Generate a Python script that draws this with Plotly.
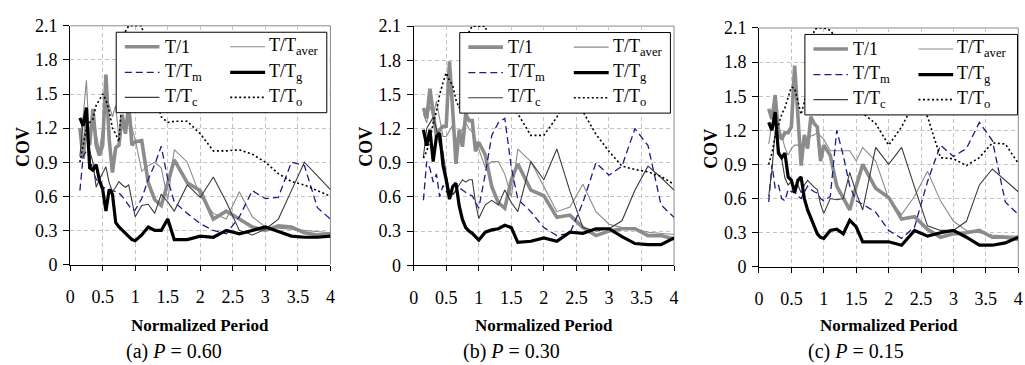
import plotly.graph_objects as go

# Normalized period grid shared by every curve
period = [0.15, 0.2, 0.25, 0.3, 0.35, 0.4, 0.45, 0.5, 0.55, 0.6, 0.65, 0.7, 0.75, 0.8,
          0.85, 0.9, 0.95, 1.0, 1.1, 1.2, 1.3, 1.4, 1.5, 1.6, 1.8, 2.0, 2.2, 2.4, 2.6,
          2.8, 3.0, 3.2, 3.4, 3.6, 3.8, 4.0]

# (a) P = 0.60
t1_a = [1.20, 0.93, 1.27, 1.05, 1.37, 1.05, 0.96, 1.05, 1.67, 1.10, 0.81, 1.03, 1.05, 1.32,
        1.15, 1.40, 1.05, 1.08, 1.09, 0.72, 0.57, 0.52, 0.72, 0.92, 0.72, 0.65, 0.40, 0.47,
        0.40, 0.33, 0.30, 0.34, 0.33, 0.28, 0.26, 0.27]
taver_a = [1.13, 1.30, 1.62, 1.05, 1.35, 1.15, 1.00, 1.20, 1.40, 1.40, 1.30, 1.40, 1.10, 1.20,
           1.20, 1.45, 1.20, 1.10, 0.82, 0.87, 0.90, 0.85, 0.57, 1.01, 0.90, 0.60, 0.45, 0.40,
           0.64, 0.42, 0.33, 0.32, 0.31, 0.30, 0.29, 0.28]
tm_a = [0.65, 0.95, 1.00, 0.95, 0.82, 0.75, 0.72, 0.68, 0.67, 0.66, 0.65, 0.64, 0.63, 0.60,
        0.56, 0.52, 0.48, 0.48, 0.58, 0.75, 0.88, 1.04, 0.75, 0.55, 0.45, 0.36, 0.30, 0.27,
        0.42, 0.65, 0.58, 0.59, 0.90, 0.87, 0.50, 0.40]
tc_a = [0.95, 1.25, 1.30, 1.00, 0.90, 0.68, 0.75, 0.80, 0.86, 0.72, 0.64, 0.68, 0.73, 0.70,
        0.68, 0.70, 0.55, 0.42, 0.52, 0.53, 0.45, 0.62, 0.55, 0.47, 0.70, 0.59, 0.77, 0.55,
        0.30, 0.26, 0.31, 0.40, 0.65, 0.90, 0.78, 0.66]
tg_a = [1.29, 1.22, 1.38, 0.85, 0.83, 0.88, 0.74, 0.66, 0.47, 0.66, 0.62, 0.37, 0.33, 0.30,
        0.28, 0.24, 0.22, 0.21, 0.26, 0.33, 0.30, 0.30, 0.40, 0.22, 0.22, 0.25, 0.24, 0.30,
        0.27, 0.30, 0.33, 0.29, 0.25, 0.24, 0.24, 0.25]
to_a = [0.90, 1.05, 1.20, 1.25, 1.28, 1.40, 1.45, 1.50, 1.45, 1.35, 1.20, 1.15, 1.08, 1.50,
        2.05, 2.10, 2.10, 2.10, 2.10, 1.80, 1.50, 1.30, 1.25, 1.26, 1.26, 1.15, 1.00, 1.00,
        1.01, 0.97, 0.90, 0.80, 0.73, 0.70, 0.65, 0.60]

# (b) P = 0.30
t1_b = [1.38, 1.29, 1.55, 1.33, 1.13, 1.19, 1.22, 1.22, 1.79, 1.36, 0.89, 1.19, 1.04, 1.33,
        1.27, 1.27, 1.00, 1.08, 0.97, 0.69, 0.55, 0.50, 0.75, 0.89, 0.66, 0.61, 0.42, 0.44,
        0.33, 0.26, 0.30, 0.32, 0.32, 0.26, 0.26, 0.23]
taver_b = [1.33, 1.25, 1.40, 1.30, 1.44, 1.30, 1.13, 1.13, 1.18, 1.23, 1.10, 1.15, 1.20, 1.25,
           1.20, 1.17, 1.10, 1.02, 0.86, 0.91, 0.91, 0.80, 0.60, 1.02, 0.91, 0.69, 0.47, 0.51,
           0.71, 0.47, 0.36, 0.33, 0.32, 0.29, 0.28, 0.27]
tm_b = [0.57, 0.91, 0.85, 0.73, 0.80, 0.60, 0.70, 0.65, 0.60, 0.62, 0.65, 0.68, 0.66, 0.64,
        0.62, 0.61, 0.55, 0.50, 0.80, 1.14, 1.25, 1.29, 0.86, 0.58, 0.47, 0.33, 0.26, 0.28,
        0.55, 0.90, 0.79, 0.87, 1.20, 1.05, 0.53, 0.42]
tc_b = [0.95, 1.20, 1.25, 1.30, 1.20, 1.05, 1.00, 0.80, 0.65, 0.62, 0.66, 0.70, 0.75, 0.73,
        0.75, 0.75, 0.55, 0.41, 0.53, 0.57, 0.53, 0.66, 0.55, 0.47, 0.91, 0.75, 1.02, 0.65,
        0.33, 0.30, 0.32, 0.39, 0.66, 0.87, 0.77, 0.66]
tg_b = [1.19, 1.05, 1.19, 0.91, 1.13, 1.16, 0.88, 0.75, 0.58, 0.69, 0.72, 0.52, 0.40, 0.33,
        0.30, 0.28, 0.25, 0.22, 0.29, 0.31, 0.32, 0.35, 0.33, 0.20, 0.21, 0.24, 0.21, 0.29,
        0.28, 0.32, 0.32, 0.25, 0.19, 0.18, 0.18, 0.24]
to_b = [0.94, 1.00, 1.10, 1.25, 1.35, 1.50, 1.60, 1.69, 1.62, 1.58, 1.45, 1.38, 1.55, 1.80,
        2.05, 2.10, 2.10, 2.10, 2.10, 1.90, 1.70, 1.50, 1.40, 1.33, 1.14, 1.14, 1.30, 1.50,
        1.35, 1.15, 1.00, 0.87, 0.84, 0.82, 0.78, 0.71]

# (c) P = 0.15
t1_c = [1.39, 1.30, 1.51, 1.18, 1.12, 1.18, 1.18, 1.23, 1.77, 1.37, 0.89, 1.16, 1.04, 1.32,
        1.26, 1.23, 0.93, 1.07, 0.98, 0.71, 0.60, 0.50, 0.71, 0.90, 0.69, 0.61, 0.42, 0.44,
        0.33, 0.26, 0.29, 0.30, 0.32, 0.26, 0.26, 0.24]
taver_c = [1.08, 1.25, 1.43, 1.25, 1.15, 1.05, 0.98, 1.04, 1.07, 1.07, 1.05, 1.09, 1.12, 1.15,
           1.16, 1.18, 1.15, 1.12, 1.02, 1.02, 1.02, 1.02, 0.93, 1.05, 0.93, 0.60, 0.46, 0.62,
           0.84, 0.58, 0.40, 0.32, 0.30, 0.28, 0.27, 0.27]
tm_c = [0.57, 0.90, 0.69, 0.72, 0.60, 0.58, 0.68, 0.66, 0.66, 0.62, 0.60, 0.66, 0.71, 0.68,
        0.66, 0.65, 0.60, 0.58, 0.62, 1.20, 0.98, 0.71, 0.58, 0.55, 0.48, 0.32, 0.25, 0.35,
        0.75, 1.07, 0.97, 1.04, 1.27, 1.11, 0.57, 0.46]
tc_c = [0.62, 0.85, 1.20, 1.05, 0.95, 0.78, 0.72, 0.75, 0.70, 0.72, 0.65, 0.72, 0.76, 0.73,
        0.70, 0.68, 0.55, 0.47, 0.60, 0.59, 0.60, 0.83, 0.65, 0.50, 1.05, 0.90, 1.05, 0.70,
        0.36, 0.32, 0.32, 0.40, 0.72, 0.86, 0.76, 0.66]
tg_c = [1.27, 1.20, 1.36, 1.00, 0.96, 1.00, 0.79, 0.76, 0.65, 0.76, 0.79, 0.60, 0.50, 0.43,
        0.36, 0.29, 0.26, 0.25, 0.32, 0.33, 0.29, 0.41, 0.35, 0.22, 0.22, 0.22, 0.19, 0.32,
        0.27, 0.30, 0.32, 0.26, 0.19, 0.19, 0.21, 0.26]
to_c = [0.90, 1.00, 1.15, 1.25, 1.34, 1.40, 1.50, 1.58, 1.57, 1.45, 1.34, 1.45, 1.60, 1.85,
        2.08, 2.10, 2.10, 2.10, 2.08, 2.00, 1.80, 1.60, 1.45, 1.35, 1.26, 1.07, 1.23, 1.45,
        1.32, 0.96, 0.95, 0.89, 0.96, 1.09, 1.08, 0.91]

captions = ["(a) <i>P</i> = 0.60", "(b) <i>P</i> = 0.30", "(c) <i>P</i> = 0.15"]
x_ticks = [0, 0.5, 1, 1.5, 2, 2.5, 3, 3.5, 4]
x_ticktext = ["0", "0.5", "1", "1.5", "2", "2.5", "3", "3.5", "4"]
y_ticks = [0, 0.3, 0.6, 0.9, 1.2, 1.5, 1.8, 2.1]
y_ticktext = ["0", "0.3", "0.6", "0.9", "1.2", "1.5", "1.8", "2.1"]

SERIF = "'Liberation Serif', 'Times New Roman', Times, serif"

# Series styles: legend label, legend column/row and line style
styles = {
    "t1":    dict(label="T/1", col=0, row=0, line=dict(color="#8c8c8c", width=3.6)),
    "taver": dict(label="T/T<sub>aver</sub>", col=1, row=0, line=dict(color="#8a8a8a", width=1.1)),
    "tm":    dict(label="T/T<sub>m</sub>", col=0, row=1, line=dict(color="#1c1c8a", width=1.3, dash="7px,4px")),
    "tg":    dict(label="T/T<sub>g</sub>", col=1, row=1, line=dict(color="#000000", width=3.2)),
    "tc":    dict(label="T/T<sub>c</sub>", col=0, row=2, line=dict(color="#3a3a3a", width=1.1)),
    "to":    dict(label="T/T<sub>o</sub>", col=1, row=2, line=dict(color="#000000", width=1.6, dash="2px,2.5px")),
}
draw_order = ["t1", "taver", "tm", "tc", "tg", "to"]

panels = [
    dict(series={"t1": t1_a, "taver": taver_a, "tm": tm_a, "tc": tc_a, "tg": tg_a, "to": to_a},
         xdom=[0.0651, 0.3213], ydom=[0.2622, 0.9542], cov_x=19, cov_y=145, cap_x=172),
    dict(series={"t1": t1_b, "taver": taver_b, "tm": tm_b, "tc": tc_b, "tg": tg_b, "to": to_b},
         xdom=[0.4032, 0.6595], ydom=[0.2603, 0.9534], cov_x=365, cov_y=145, cap_x=512),
    dict(series={"t1": t1_c, "taver": taver_c, "tm": tm_c, "tc": tc_c, "tg": tg_c, "to": to_c},
         xdom=[0.7431, 0.9983], ydom=[0.2556, 0.9479], cov_x=713, cov_y=147, cap_x=860),
]

W, H = 1025, 365
fig = go.Figure()
shapes, annotations = [], []

for i, p in enumerate(panels):
    sfx = "" if i == 0 else str(i + 1)
    xa, ya = "x" + sfx, "y" + sfx
    for key in draw_order:
        st = styles[key]
        fig.add_trace(go.Scatter(x=period, y=p["series"][key], mode="lines",
                                 line=st["line"], xaxis=xa, yaxis=ya,
                                 name=st["label"], showlegend=False, hoverinfo="skip"))

    axis_font = dict(family=SERIF, size=18, color="#000000")
    fig.layout["xaxis" + sfx] = dict(
        domain=p["xdom"], anchor=ya, range=[0, 4], tickvals=x_ticks, ticktext=x_ticktext,
        showline=True, linecolor="#000000", linewidth=1, ticks="outside", ticklen=5,
        tickcolor="#000000", tickfont=axis_font, ticklabelstandoff=11,
        showgrid=True, gridcolor="#c4c4c4", griddash="4px,3px", gridwidth=1, zeroline=False)
    fig.layout["yaxis" + sfx] = dict(
        domain=p["ydom"], anchor=xa, range=[0, 2.1], tickvals=y_ticks, ticktext=y_ticktext,
        showline=True, linecolor="#000000", linewidth=1, ticks="outside", ticklen=6,
        tickcolor="#000000", tickfont=axis_font, ticklabelstandoff=2,
        showgrid=True, gridcolor="#c4c4c4", griddash="4px,3px", gridwidth=1, zeroline=False)

    xd, yd = xa + " domain", ya + " domain"
    # gray frame on the top and right of the plotting area
    shapes.append(dict(type="line", xref=xd, yref=yd, x0=0, x1=1, y0=1, y1=1,
                       line=dict(color="#8a8a8a", width=1), layer="below"))
    shapes.append(dict(type="line", xref=xd, yref=yd, x0=1, x1=1, y0=0, y1=1,
                       line=dict(color="#8a8a8a", width=1), layer="below"))

    # legend box
    lx0, lx1 = 0.177, (0.986 if i < 2 else 0.997)
    ly0, ly1 = 0.636, 0.973
    shapes.append(dict(type="rect", xref=xd, yref=yd, x0=lx0, x1=lx1, y0=ly0, y1=ly1,
                       fillcolor="#ffffff", line=dict(color="#000000", width=1), layer="above"))
    rows_y = [0.912, 0.805, 0.700]
    cols = [(0.210, 0.343, 0.356), (0.615, 0.749, 0.757)]
    for key in draw_order:
        st = styles[key]
        c0, c1, tx = cols[st["col"]]
        yy = rows_y[st["row"]]
        shapes.append(dict(type="line", xref=xd, yref=yd, x0=c0, x1=c1, y0=yy, y1=yy,
                           line=dict(st["line"]), layer="above"))
        annotations.append(dict(text=st["label"], xref=xd, yref=yd, x=tx, y=yy,
                                xanchor="left", yanchor="middle", showarrow=False,
                                font=dict(family=SERIF, size=18, color="#000000")))

    # axis titles and caption
    annotations.append(dict(text="<b>COV</b>", xref="paper", yref="paper",
                            x=p["cov_x"] / W, y=1 - p["cov_y"] / H, textangle=-90,
                            xanchor="center", yanchor="middle", showarrow=False,
                            font=dict(family=SERIF, size=18, color="#000000")))
    annotations.append(dict(text="<b>Normalized Period</b>", xref="paper", yref="paper",
                            x=(p["xdom"][0] + p["xdom"][1]) / 2, y=1 - 334 / H,
                            xanchor="center", yanchor="middle", showarrow=False,
                            font=dict(family=SERIF, size=17, color="#000000")))
    annotations.append(dict(text=captions[i], xref="paper", yref="paper",
                            x=p["cap_x"] / W, y=1 - 361 / H,
                            xanchor="center", yanchor="middle", showarrow=False,
                            font=dict(family=SERIF, size=20, color="#000000")))

fig.update_layout(width=W, height=H, margin=dict(l=0, r=0, t=0, b=0),
                  paper_bgcolor="#ffffff", plot_bgcolor="#ffffff", showlegend=False,
                  font=dict(family=SERIF),
                  shapes=shapes, annotations=annotations)

fig.write_html("out.html")
